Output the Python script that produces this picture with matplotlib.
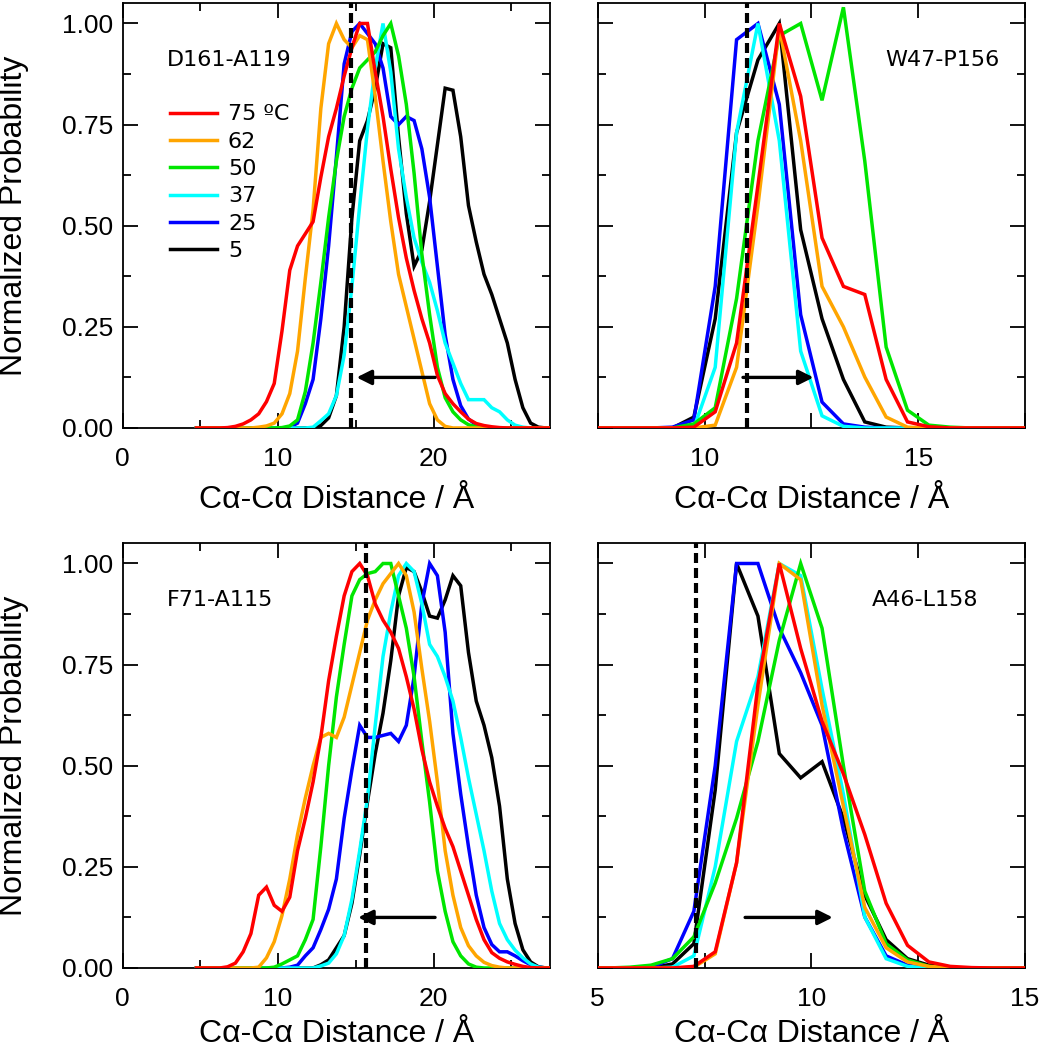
import matplotlib
matplotlib.use('Agg')
import matplotlib.pyplot as plt
from matplotlib.ticker import FixedLocator, FixedFormatter

# temperatures, legend order
temps = ['75 ºC', '62', '50', '37', '25', '5']
colors = ['#ff0000', '#ffa500', '#00e600', '#00ffff', '#0000ff', '#000000']

# ---- D161-A119 (top left), bins of 0.5 A ----
x_d161 = [4.75, 5.25, 5.75, 6.25, 6.75, 7.25, 7.75, 8.25, 8.75, 9.25, 9.75, 10.25,
          10.75, 11.25, 11.75, 12.25, 12.75, 13.25, 13.75, 14.25, 14.75, 15.25, 15.75,
          16.25, 16.75, 17.25, 17.75, 18.25, 18.75, 19.25, 19.75, 20.25, 20.75, 21.25,
          21.75, 22.25, 22.75, 23.25, 23.75, 24.25, 24.75, 25.25, 25.75, 26.25, 26.75,
          27.25, 27.75]
d161_75 = [0, 0, 0, 0, 0.001, 0.004, 0.01, 0.02, 0.035, 0.065, 0.11, 0.24,
           0.39, 0.45, 0.48, 0.51, 0.62, 0.72, 0.79, 0.87, 0.94, 1.0, 1.0,
           0.88, 0.77, 0.64, 0.52, 0.42, 0.34, 0.27, 0.21, 0.13, 0.085, 0.06,
           0.04, 0.022, 0.011, 0.006, 0.003, 0.001, 0, 0, 0, 0, 0,
           0, 0]
d161_62 = [0, 0, 0, 0, 0, 0, 0, 0, 0.002, 0.005, 0.012, 0.035,
           0.085, 0.19, 0.37, 0.54, 0.79, 0.95, 1.0, 0.96, 0.94, 0.97, 0.96,
           0.82, 0.66, 0.51, 0.38, 0.30, 0.22, 0.14, 0.06, 0.02, 0.004, 0,
           0, 0, 0, 0, 0, 0, 0, 0, 0, 0, 0,
           0, 0]
d161_50 = [0, 0, 0, 0, 0, 0, 0, 0, 0, 0, 0, 0.001,
           0.005, 0.02, 0.09, 0.21, 0.36, 0.52, 0.66, 0.77, 0.84, 0.89, 0.91,
           0.93, 0.97, 1.0, 0.92, 0.80, 0.63, 0.43, 0.28, 0.15, 0.075, 0.04,
           0.02, 0.008, 0.003, 0, 0, 0, 0, 0, 0, 0, 0,
           0, 0]
d161_37 = [0, 0, 0, 0, 0, 0, 0, 0, 0, 0, 0, 0,
           0, 0, 0, 0.002, 0.018, 0.035, 0.08, 0.18, 0.35, 0.55, 0.74,
           0.89, 1.0, 0.88, 0.69, 0.57, 0.47, 0.41, 0.36, 0.29, 0.21, 0.16,
           0.11, 0.07, 0.07, 0.07, 0.05, 0.04, 0.02, 0.007, 0.002, 0, 0,
           0, 0]
d161_25 = [0, 0, 0, 0, 0, 0, 0, 0, 0, 0, 0, 0,
           0.002, 0.012, 0.06, 0.12, 0.27, 0.45, 0.67, 0.90, 0.98, 1.0, 0.975,
           0.95, 0.89, 0.77, 0.75, 0.77, 0.76, 0.69, 0.57, 0.40, 0.23, 0.12,
           0.055, 0.022, 0.008, 0.002, 0, 0, 0, 0, 0, 0, 0,
           0, 0]
d161_5 = [0, 0, 0, 0, 0, 0, 0, 0, 0, 0, 0, 0,
          0, 0, 0, 0, 0.006, 0.025, 0.08, 0.25, 0.52, 0.71, 0.76,
          0.84, 0.95, 0.94, 0.72, 0.53, 0.40, 0.44, 0.56, 0.70, 0.84, 0.835,
          0.72, 0.55, 0.46, 0.38, 0.33, 0.27, 0.21, 0.12, 0.05, 0.012, 0.002,
          0, 0]

# ---- W47-P156 (top right) ----
x_w47 = [7.25, 7.75, 8.25, 8.75, 9.25, 9.75, 10.25, 10.75, 11.25, 11.75, 12.25,
         12.75, 13.25, 13.75, 14.25, 14.75, 15.25, 15.75, 16.25, 16.75, 17.25, 17.75]
w47_75 = [0, 0, 0, 0, 0, 0.002, 0.04, 0.21, 0.60, 1.0, 0.82,
          0.47, 0.35, 0.33, 0.12, 0.015, 0.003, 0, 0, 0, 0, 0]
w47_62 = [0, 0, 0, 0, 0, 0, 0.007, 0.15, 0.55, 0.99, 0.71,
          0.35, 0.25, 0.126, 0.027, 0.002, 0, 0, 0, 0, 0, 0]
w47_50 = [0, 0, 0, 0, 0, 0.01, 0.05, 0.32, 0.71, 0.97, 1.0,
          0.81, 1.04, 0.66, 0.20, 0.044, 0.007, 0.002, 0, 0, 0, 0]
w47_37 = [0, 0, 0, 0, 0, 0, 0.15, 0.73, 1.0, 0.71, 0.19,
          0.03, 0.004, 0, 0, 0, 0, 0, 0, 0, 0, 0]
w47_25 = [0, 0, 0, 0, 0.002, 0.02, 0.35, 0.96, 1.0, 0.80, 0.28,
          0.064, 0.01, 0.002, 0, 0, 0, 0, 0, 0, 0, 0]
w47_5 = [0, 0, 0, 0, 0, 0.027, 0.27, 0.73, 0.91, 1.0, 0.49,
         0.27, 0.12, 0.015, 0.002, 0, 0, 0, 0, 0, 0, 0]

# ---- F71-A115 (bottom left) ----
x_f71 = x_d161
f71_75 = [0, 0, 0, 0, 0.003, 0.012, 0.04, 0.085, 0.18, 0.20, 0.155, 0.14,
          0.175, 0.29, 0.37, 0.46, 0.57, 0.71, 0.82, 0.92, 0.98, 1.0, 0.97,
          0.90, 0.86, 0.83, 0.79, 0.72, 0.64, 0.54, 0.46, 0.40, 0.345, 0.30,
          0.24, 0.18, 0.12, 0.07, 0.038, 0.024, 0.015, 0.009, 0.004, 0.001, 0,
          0, 0]
f71_62 = [0, 0, 0, 0, 0, 0, 0, 0, 0.002, 0.025, 0.065, 0.13,
          0.22, 0.33, 0.42, 0.50, 0.57, 0.58, 0.57, 0.62, 0.70, 0.78, 0.86,
          0.91, 0.95, 0.975, 1.0, 0.97, 0.88, 0.74, 0.61, 0.46, 0.29, 0.18,
          0.10, 0.055, 0.03, 0.014, 0.006, 0.002, 0, 0, 0, 0, 0,
          0, 0]
f71_50 = [0, 0, 0, 0, 0, 0, 0, 0, 0, 0, 0.002, 0.01,
          0.02, 0.03, 0.07, 0.12, 0.30, 0.50, 0.67, 0.80, 0.92, 0.96, 0.975,
          0.98, 1.0, 1.0, 0.92, 0.84, 0.72, 0.56, 0.41, 0.24, 0.14, 0.065,
          0.03, 0.01, 0.002, 0, 0, 0, 0, 0, 0, 0, 0,
          0, 0]
f71_37 = [0, 0, 0, 0, 0, 0, 0, 0, 0, 0, 0, 0,
          0, 0, 0, 0, 0.005, 0.012, 0.035, 0.08, 0.17, 0.29, 0.42,
          0.60, 0.77, 0.88, 0.97, 1.0, 0.98, 0.90, 0.80, 0.77, 0.72, 0.66,
          0.57, 0.47, 0.38, 0.29, 0.19, 0.11, 0.07, 0.044, 0.025, 0.01, 0.002,
          0, 0]
f71_25 = [0, 0, 0, 0, 0, 0, 0, 0, 0, 0, 0, 0,
          0.002, 0.007, 0.03, 0.05, 0.095, 0.145, 0.22, 0.37, 0.49, 0.60, 0.57,
          0.57, 0.575, 0.58, 0.56, 0.60, 0.72, 0.90, 1.0, 0.97, 0.83, 0.58,
          0.43, 0.30, 0.18, 0.10, 0.058, 0.04, 0.04, 0.03, 0.018, 0.008, 0.002,
          0, 0]
f71_5 = [0, 0, 0, 0, 0, 0, 0, 0, 0, 0, 0, 0,
         0, 0, 0, 0, 0.008, 0.02, 0.05, 0.08, 0.16, 0.28, 0.41,
         0.53, 0.63, 0.76, 0.92, 0.99, 0.98, 0.93, 0.87, 0.865, 0.91, 0.97,
         0.945, 0.78, 0.66, 0.60, 0.52, 0.40, 0.22, 0.11, 0.045, 0.015, 0.003,
         0, 0]

# ---- A46-L158 (bottom right) ----
x_a46 = [4.75, 5.25, 5.75, 6.25, 6.75, 7.25, 7.75, 8.25, 8.75, 9.25, 9.75,
         10.25, 10.75, 11.25, 11.75, 12.25, 12.75, 13.25, 13.75, 14.25, 14.75, 15.25]
a46_75 = [0, 0, 0, 0, 0, 0.004, 0.04, 0.26, 0.70, 1.0, 0.79,
          0.61, 0.48, 0.33, 0.16, 0.056, 0.015, 0.004, 0.001, 0, 0, 0]
a46_62 = [0, 0, 0, 0, 0, 0.002, 0.035, 0.26, 0.65, 1.0, 0.96,
          0.65, 0.40, 0.15, 0.05, 0.015, 0.004, 0, 0, 0, 0, 0]
a46_50 = [0, 0, 0.002, 0.007, 0.023, 0.077, 0.21, 0.37, 0.56, 0.81, 1.0,
          0.84, 0.50, 0.19, 0.06, 0.02, 0.004, 0, 0, 0, 0, 0]
a46_37 = [0, 0, 0, 0, 0.002, 0.03, 0.25, 0.56, 0.72, 1.0, 0.97,
          0.69, 0.43, 0.126, 0.023, 0.004, 0, 0, 0, 0, 0, 0]
a46_25 = [0, 0, 0, 0.002, 0.023, 0.14, 0.50, 1.0, 1.0, 0.84, 0.73,
          0.60, 0.34, 0.126, 0.03, 0.007, 0, 0, 0, 0, 0, 0]
a46_5 = [0, 0, 0, 0, 0.01, 0.06, 0.44, 1.0, 0.87, 0.53, 0.47,
         0.51, 0.37, 0.18, 0.07, 0.023, 0.007, 0, 0, 0, 0, 0]

panels = [
    ('D161-A119', x_d161, [d161_75, d161_62, d161_50, d161_37, d161_25, d161_5]),
    ('W47-P156', x_w47, [w47_75, w47_62, w47_50, w47_37, w47_25, w47_5]),
    ('F71-A115', x_f71, [f71_75, f71_62, f71_50, f71_37, f71_25, f71_5]),
    ('A46-L158', x_a46, [a46_75, a46_62, a46_50, a46_37, a46_25, a46_5]),
]
xlims = [(0, 27.5), (7.5, 17.5), (0, 27.5), (5, 15)]
dash_x = [14.68, 11.0, 15.63, 7.3]
# arrow tail, tip (at y = 0.125)
arrows = [(20.1, 15.05), (10.9, 12.55), (20.1, 15.15), (8.45, 10.5)]
label_pos = [0.104, 0.672, 0.104, 0.641]

sans = ['Liberation Sans', 'DejaVu Sans']
lucida = ['DejaVu Sans']

fig = plt.figure(figsize=(10.4, 10.5), dpi=100)
rects = [[0.118, 0.5924, 0.4109, 0.4045],
         [0.5747, 0.5924, 0.4109, 0.4045],
         [0.118, 0.0781, 0.4109, 0.4045],
         [0.5747, 0.0781, 0.4109, 0.4045]]

for i, (name, xs, ys) in enumerate(panels):
    ax = fig.add_axes(rects[i])
    # draw black first so red ends on top
    for y, c, t in reversed(list(zip(ys, colors, temps))):
        ax.plot(xs, y, color=c, lw=2.5, label=t, zorder=3, solid_joinstyle='miter')
    ax.axvline(dash_x[i], color='k', lw=3.0, dashes=(2.4, 1.2), zorder=4)
    ax.annotate('', xy=(arrows[i][1], 0.125), xytext=(arrows[i][0], 0.125),
                arrowprops=dict(arrowstyle='-|>', lw=2.4, color='k',
                                mutation_scale=22, shrinkA=0, shrinkB=0),
                zorder=5)
    ax.text(label_pos[i], 0.866, name, transform=ax.transAxes, fontsize=16,
            family=lucida, va='center', ha='left')

    ax.set_xlim(*xlims[i])
    ax.set_ylim(0, 1.05)

    if i in (0, 2):
        ax.xaxis.set_major_locator(FixedLocator([0, 10, 20]))
        ax.xaxis.set_minor_locator(FixedLocator([5, 15, 25]))
        ax.yaxis.set_major_locator(FixedLocator([0, 0.25, 0.5, 0.75, 1.0]))
        ax.set_yticklabels(['0.00', '0.25', '0.50', '0.75', '1.00'])
    else:
        if i == 1:
            tk = [7.5, 10, 12.5, 15, 17.5]
            tl = ['', '10', '', '15', '']
        else:
            tk = [5, 7.5, 10, 12.5, 15]
            tl = ['5', '', '10', '', '15']
        ax.xaxis.set_major_locator(FixedLocator(tk))
        ax.xaxis.set_major_formatter(FixedFormatter(tl))
        ax.yaxis.set_major_locator(FixedLocator([0, 0.25, 0.5, 0.75, 1.0]))
        ax.set_yticklabels([])
    ax.yaxis.set_minor_locator(FixedLocator([0.125, 0.375, 0.625, 0.875]))

    ax.tick_params(which='both', direction='in', top=True, right=True, width=1.3)
    ax.tick_params(which='major', length=11)
    ax.tick_params(which='minor', length=6)
    ax.tick_params(axis='x', which='both', pad=14, labelsize=19)
    ax.tick_params(axis='y', which='both', pad=7, labelsize=19)
    for lab in ax.get_xticklabels() + ax.get_yticklabels():
        lab.set_family(sans)
    for s in ax.spines.values():
        s.set_linewidth(1.3)

    # bottom row sits right at the figure edge, pull its label up a little
    lp = 10 if i < 2 else 5.5
    ax.set_xlabel('C\u03b1-C\u03b1 Distance / \u00c5', fontsize=23, family=sans, labelpad=lp)

    if i == 0:
        leg = ax.legend(*[list(reversed(v)) for v in ax.get_legend_handles_labels()],
                        loc='upper left', bbox_to_anchor=(0.111, 0.762),
                        frameon=False, borderpad=0, borderaxespad=0,
                        handlelength=2.1, handletextpad=0.5, labelspacing=0.33,
                        prop={'family': lucida, 'size': 16})

fig.text(0.013, 0.7948, 'Normalized Probability', rotation=90, fontsize=23,
         family=sans, ha='center', va='center')
fig.text(0.013, 0.2805, 'Normalized Probability', rotation=90, fontsize=23,
         family=sans, ha='center', va='center')

fig.savefig('out.png', dpi=100)
